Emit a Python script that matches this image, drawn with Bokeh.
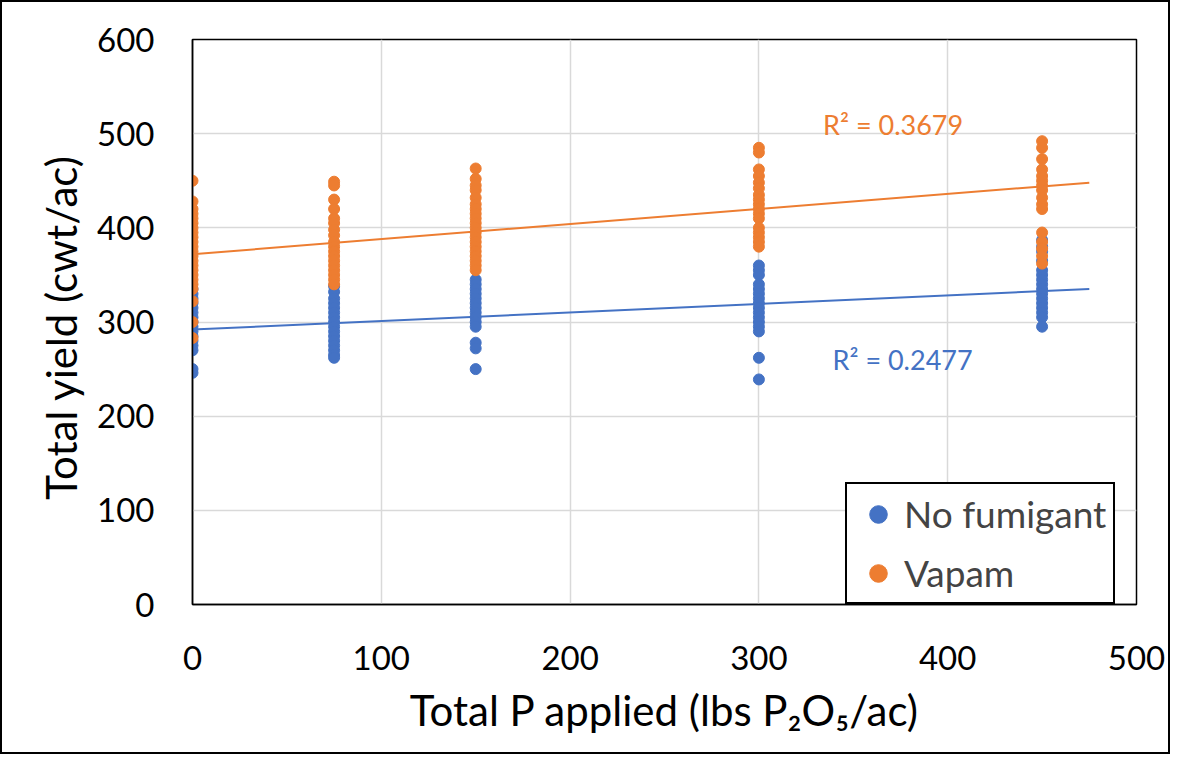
from bokeh.plotting import figure
from bokeh.models import ColumnDataSource, Legend, LegendItem, FixedTicker, Range1d
from bokeh.core.properties import value
from bokeh.embed import file_html
from bokeh.resources import INLINE

# ---- data ----
p_rates = [0, 75, 150, 300, 450]

nofum_0 = [335, 330, 325, 320, 315, 310, 305, 300, 295, 290, 285, 280, 275, 270, 250, 246]
nofum_75 = [338, 332, 325, 320, 315, 310, 305, 300, 295, 290, 285, 280, 275, 270, 265, 262]
nofum_150 = [345, 340, 335, 330, 325, 320, 315, 310, 305, 300, 295, 278, 272, 250]
nofum_300 = [360, 355, 350, 340, 335, 330, 325, 320, 315, 310, 305, 300, 295, 290, 262, 239]
nofum_450 = [387, 380, 375, 365, 355, 350, 345, 340, 335, 330, 325, 320, 315, 310, 305, 295]

vapam_0 = [450, 428, 420, 415, 410, 405, 400, 395, 390, 385, 380, 375, 370, 365, 360, 355, 350, 345, 340, 335, 322, 300, 283]
vapam_75 = [449, 445, 430, 420, 410, 405, 398, 392, 385, 380, 375, 370, 365, 360, 355, 350, 345, 340]
vapam_150 = [463, 452, 445, 440, 432, 425, 420, 415, 410, 405, 400, 395, 390, 385, 380, 375, 370, 365, 360, 355]
vapam_300 = [485, 480, 462, 455, 448, 442, 435, 430, 425, 420, 415, 410, 400, 395, 390, 385, 380]
vapam_450 = [492, 485, 473, 462, 455, 450, 445, 440, 432, 425, 420, 395, 385, 378, 370, 362]

trend_x = [0, 475]
nofum_trend = [292, 335]
vapam_trend = [372, 448]

r2_labels = ["R² = 0.3679", "R² = 0.2477"]
r2_x = [334, 339]
r2_y = [510, 260]

x_ticks = [0, 100, 200, 300, 400, 500]
y_ticks = [0, 100, 200, 300, 400, 500, 600]

x_title = "Total P applied (lbs P₂O₅/ac)"
y_title = "Total yield (cwt/ac)"

BLUE = "#4472C4"
ORANGE = "#ED7D31"
FONT = "Lato"

def flatten(groups):
    xs, ys = [], []
    for x, vals in zip(p_rates, groups):
        xs += [x] * len(vals)
        ys += vals
    return xs, ys

nx, ny = flatten([nofum_0, nofum_75, nofum_150, nofum_300, nofum_450])
vx, vy = flatten([vapam_0, vapam_75, vapam_150, vapam_300, vapam_450])

p = figure(width=1170, height=754, output_backend="svg", toolbar_location=None,
           x_range=Range1d(0, 500), y_range=Range1d(0, 600),
           min_border_left=190, min_border_right=36, min_border_top=37, min_border_bottom=152)
p.styles = {"border": "2px solid black", "box-sizing": "border-box"}

p.xgrid.grid_line_color = "#d9d9d9"
p.ygrid.grid_line_color = "#d9d9d9"
p.xgrid.grid_line_width = 1.5
p.ygrid.grid_line_width = 1.5
p.outline_line_color = "#000000"
p.outline_line_width = 1.5

p.xaxis.ticker = FixedTicker(ticks=x_ticks)
p.yaxis.ticker = FixedTicker(ticks=y_ticks)
for ax in (p.xaxis[0], p.yaxis[0]):
    ax.major_tick_line_color = None
    ax.minor_tick_line_color = None
    ax.major_label_text_font = FONT
    ax.major_label_text_font_size = "33px"
    ax.major_label_text_color = "#000000"
    ax.axis_line_color = "#000000"
    ax.axis_line_width = 1.5
    ax.axis_label_text_font = FONT
    ax.axis_label_text_font_style = "normal"
    ax.axis_label_text_color = "#000000"
p.xaxis.major_label_standoff = 35
p.yaxis.major_label_standoff = 32

p.xaxis.axis_label = x_title
p.xaxis.axis_label_text_font_size = "42px"
p.xaxis.axis_label_standoff = 12

p.yaxis.axis_label = y_title + "\u00a0"
p.yaxis.axis_label_text_font_size = "42px"
p.yaxis.axis_label_standoff = 8

p.line(trend_x, vapam_trend, line_color=ORANGE, line_width=2)
p.line(trend_x, nofum_trend, line_color=BLUE, line_width=2)

r_n = p.scatter(nx, ny, size=11, marker="circle", fill_color=BLUE, line_color=BLUE)
r_v = p.scatter(vx, vy, size=11, marker="circle", fill_color=ORANGE, line_color=ORANGE)

src = ColumnDataSource(dict(x=r2_x, y=r2_y, t=r2_labels, c=[ORANGE, BLUE]))
p.text(x="x", y="y", text="t", text_color="c", source=src, text_font=value(FONT),
       text_font_size="27px", text_baseline="middle", text_align="left")

legend = Legend(items=[LegendItem(label="No fumigant", renderers=[r_n]),
                       LegendItem(label="Vapam", renderers=[r_v])],
                location=(653, 0))
legend.margin = 0
legend.border_line_color = "#000000"
legend.border_line_alpha = 1
legend.border_line_width = 2
legend.background_fill_alpha = 1
legend.label_text_font = FONT
legend.label_text_font_size = "37px"
legend.glyph_width = 48
legend.glyph_height = 44
legend.label_height = 44
legend.padding = 7
legend.spacing = 14
legend.label_standoff = 2
p.add_layout(legend)

open("out.html", "w").write(file_html(p, INLINE))
